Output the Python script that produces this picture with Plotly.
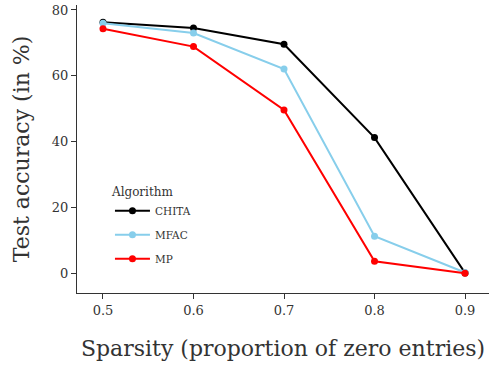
import plotly.graph_objects as go

sparsity = [0.5, 0.6, 0.7, 0.8, 0.9]
chita = [76.3, 74.5, 69.6, 41.3, 0.3]
mfac = [76.0, 73.0, 62.1, 11.4, 0.4]
mp = [74.3, 68.9, 49.7, 3.8, 0.2]
names = ["CHITA", "MFAC", "MP"]
colors = ["black", "#87CEEB", "red"]

fig = go.Figure()
for name, ys, c in zip(names, [chita, mfac, mp], colors):
    fig.add_trace(go.Scatter(x=sparsity, y=ys, mode="lines+markers", name=name, legendgroup=name,
                             line=dict(color=c, width=2), marker=dict(color=c, size=7)))

font = "DejaVu Serif"
axis_common = dict(showgrid=False, zeroline=False, showline=True, linecolor="#333333", linewidth=1.2,
                   ticks="outside", ticklen=5, tickcolor="#333333", tickwidth=1,
                   tickfont=dict(family=font, size=13, color="#333333"), mirror=False)
fig.update_layout(
    width=490, height=367, margin=dict(l=77, r=1, t=5, b=74),
    plot_bgcolor="white", paper_bgcolor="white",
    font=dict(family=font, color="#333333"),
    xaxis=dict(range=[0.4713, 0.9265], tickvals=[0.5, 0.6, 0.7, 0.8, 0.9],
               ticktext=["0.5", "0.6", "0.7", "0.8", "0.9"],
               title=dict(text="Sparsity (proportion of zero entries)", font=dict(family=font, size=22, color="#333333"), standoff=23),
               **axis_common),
    yaxis=dict(range=[-5.8, 81.5], tickvals=[0, 20, 40, 60, 80],
               title=dict(text="Test accuracy (in %)", font=dict(family=font, size=22, color="#333333"), standoff=16),
               **axis_common),
    legend=dict(title=dict(text="Algorithm", font=dict(family=font, size=12, color="#333333")),
                font=dict(family=font, size=10.5, color="#333333"),
                x=0.08, y=0.39, xanchor="left", yanchor="top", bgcolor="rgba(0,0,0,0)",
                itemwidth=35, traceorder="grouped", tracegroupgap=5),
    showlegend=True,
)
fig.write_html("out.html")
